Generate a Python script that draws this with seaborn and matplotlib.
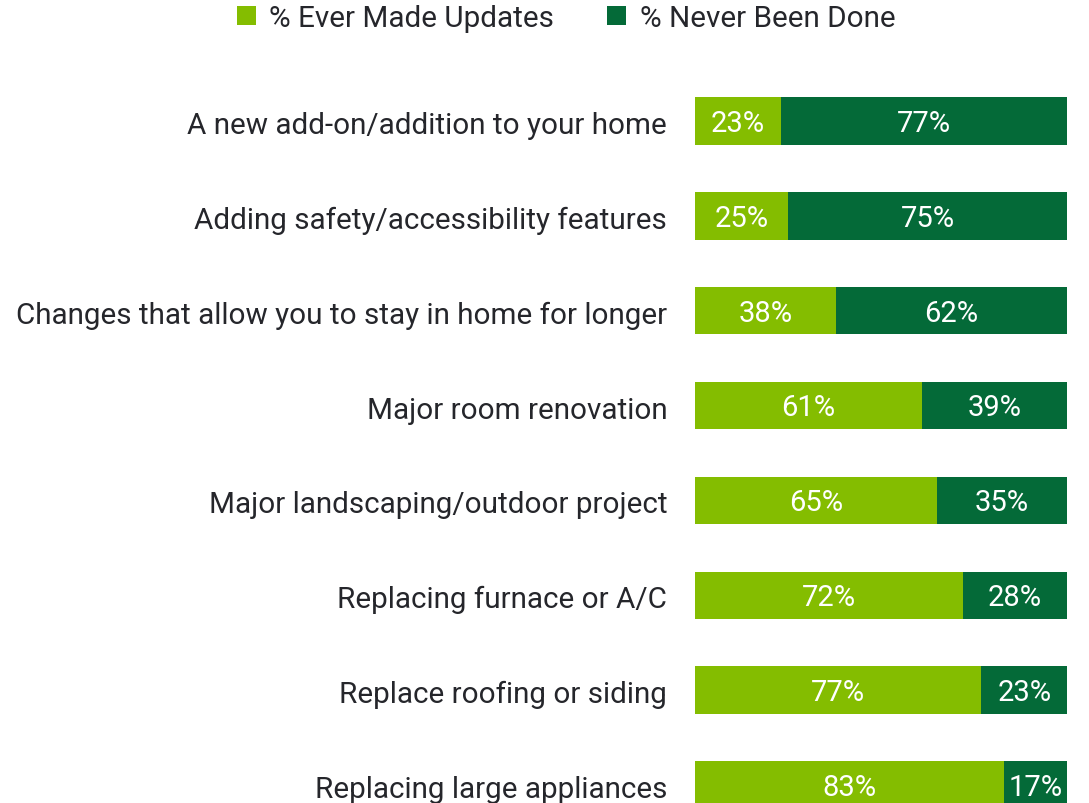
import matplotlib
matplotlib.use("Agg")
import matplotlib.pyplot as plt
import matplotlib.transforms as mtransforms
from matplotlib.patches import Patch
import seaborn as sns
import pandas as pd

categories = [
    "A new add-on/addition to your home",
    "Adding safety/accessibility features",
    "Changes that allow you to stay in home for longer",
    "Major room renovation",
    "Major landscaping/outdoor project",
    "Replacing furnace or A/C",
    "Replace roofing or siding",
    "Replacing large appliances",
]
ever_made = [23, 25, 38, 61, 65, 72, 77, 83]
never_done = [77, 75, 62, 39, 35, 28, 23, 17]
series_names = ["% Ever Made Updates", "% Never Been Done"]

LIGHT = "#84BD00"
DARK = "#046A38"
TEXT = "#25262b"

sns.set_theme(style="white")
plt.rcParams["font.family"] = ["Roboto", "DejaVu Sans"]

df = pd.DataFrame({"category": categories, "ever": ever_made, "never": never_done})
df["total"] = df["ever"] + df["never"]

fig = plt.figure(figsize=(10.89, 8.04), dpi=100)
ax = fig.add_axes([695 / 1089, -0.0367, 372 / 1089, 0.944])

sns.barplot(data=df, y="category", x="total", color=DARK, orient="h",
            width=0.5, ax=ax, saturation=1, linewidth=0)
sns.barplot(data=df, y="category", x="ever", color=LIGHT, orient="h",
            width=0.5, ax=ax, saturation=1, linewidth=0)

for i, (e, n) in enumerate(zip(ever_made, never_done)):
    ax.text(e / 2, i + 0.02, f"{e}%", ha="center", va="center", color="white", fontsize=21)
    ax.text(e + n / 2, i + 0.02, f"{n}%", ha="center", va="center", color="white", fontsize=21)

ax.set_xlim(0, 100)
ax.set_ylim(7.5, -0.5)
ax.set_xlabel("")
ax.set_ylabel("")
ax.set_xticks([])
ax.tick_params(axis="y", length=0, pad=20, labelsize=21.3, labelcolor=TEXT)
offset = mtransforms.ScaledTranslation(0, -1 / 100, fig.dpi_scale_trans)
for lbl in ax.get_yticklabels():
    lbl.set_transform(lbl.get_transform() + offset)
for s in ax.spines.values():
    s.set_visible(False)

handles = [Patch(facecolor=LIGHT, edgecolor="none"), Patch(facecolor=DARK, edgecolor="none")]
fig.legend(handles, series_names, loc="center", bbox_to_anchor=(566 / 1089, 1 - 19 / 804),
           ncol=2, frameon=False, fontsize=21.3, handlelength=0.65, handleheight=0.65,
           handletextpad=0.45, columnspacing=1.8, labelcolor=TEXT)

fig.savefig("out.png", dpi=100)
